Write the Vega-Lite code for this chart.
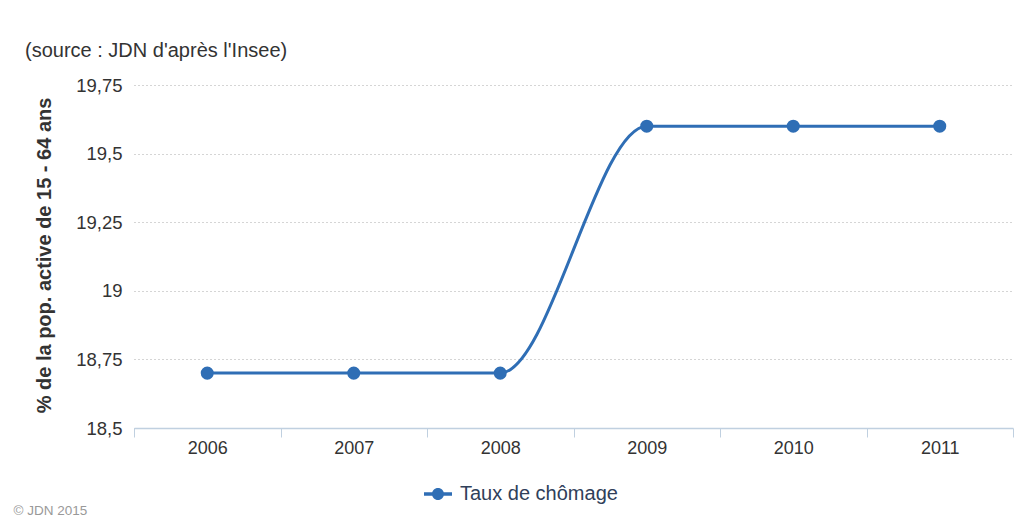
{
  "$schema": "https://vega.github.io/schema/vega-lite/v6.json",
  "width": 879,
  "height": 343,
  "autosize": {"type": "none"},
  "padding": {"left": 134, "top": 85, "right": 7, "bottom": 93},
  "background": "white",
  "config": {
    "font": "Liberation Sans",
    "view": {"stroke": null},
    "title": {"font": "Liberation Sans"},
    "axis": {"labelFont": "Liberation Sans", "titleFont": "Liberation Sans"},
    "legend": {"labelFont": "Liberation Sans"}
  },
  "title": {
    "text": "(source : JDN d'après l'Insee)",
    "anchor": "start",
    "frame": "group",
    "dx": -109,
    "dy": 3,
    "offset": 2,
    "baseline": "alphabetic",
    "fontSize": 20,
    "fontWeight": "normal",
    "color": "#333333"
  },
  "data": {
    "values": [
      {"year": "2006", "value": 18.7, "series": "Taux de chômage"},
      {"year": "2007", "value": 18.7, "series": "Taux de chômage"},
      {"year": "2008", "value": 18.7, "series": "Taux de chômage"},
      {"year": "2009", "value": 19.6, "series": "Taux de chômage"},
      {"year": "2010", "value": 19.6, "series": "Taux de chômage"},
      {"year": "2011", "value": 19.6, "series": "Taux de chômage"}
    ]
  },
  "encoding": {
    "x": {
      "field": "year",
      "type": "ordinal",
      "scale": {"type": "band", "paddingInner": 0, "paddingOuter": 0},
      "axis": {
        "title": "© JDN 2015",
        "titleX": -121,
        "titleY": 82,
        "titleAlign": "left",
        "titleBaseline": "middle",
        "titleAngle": 0,
        "titleFontSize": 13.5,
        "titleFontWeight": "normal",
        "titleColor": "#999999",
        "labelAngle": 0,
        "labelFontSize": 18,
        "labelColor": "#333333",
        "labelPadding": 2,
        "tickBand": "extent",
        "tickSize": 9,
        "tickColor": "#C0D0E0",
        "domainColor": "#C0D0E0",
        "domainWidth": 1.5,
        "grid": false
      }
    },
    "y": {
      "field": "value",
      "type": "quantitative",
      "scale": {"domain": [18.5, 19.75], "zero": false, "nice": false},
      "axis": {
        "title": "% de la pop. active de 15 - 64 ans",
        "titleFontSize": 20,
        "titleFontWeight": "bold",
        "titleColor": "#333333",
        "titleAngle": -90,
        "titleX": -90,
        "titleY": 170,
        "titleAlign": "center",
        "titleBaseline": "middle",
        "values": [18.5, 18.75, 19, 19.25, 19.5, 19.75],
        "labelExpr": "replace(toString(datum.value), '.', ',')",
        "labelFontSize": 18.5,
        "labelColor": "#333333",
        "labelPadding": 12,
        "ticks": false,
        "tickSize": 0,
        "domain": false,
        "grid": true,
        "gridColor": "#AAAAAA",
        "gridDash": [1, 3],
        "gridWidth": 1
      }
    }
  },
  "layer": [
    {
      "mark": {"type": "line", "interpolate": "monotone", "color": "#2f6eb5", "strokeWidth": 3}
    },
    {
      "mark": {"type": "point", "filled": true, "size": 170, "opacity": 1},
      "encoding": {
        "color": {
          "field": "series",
          "type": "nominal",
          "scale": {"range": ["#2f6eb5"]},
          "legend": {
            "title": null,
            "orient": "none",
            "legendX": 290,
            "legendY": 395,
            "padding": 0,
            "symbolType": "M-1,-0.12 L1,-0.12 L1,0.12 L-1,0.12 Z M0.43,0 A0.43,0.43 0 1,1 -0.43,0 A0.43,0.43 0 1,1 0.43,0 Z",
            "symbolSize": 784,
            "symbolStrokeWidth": 0,
            "symbolOpacity": 1,
            "labelFontSize": 20,
            "labelColor": "#30405a",
            "labelOffset": 8
          }
        }
      }
    }
  ]
}
